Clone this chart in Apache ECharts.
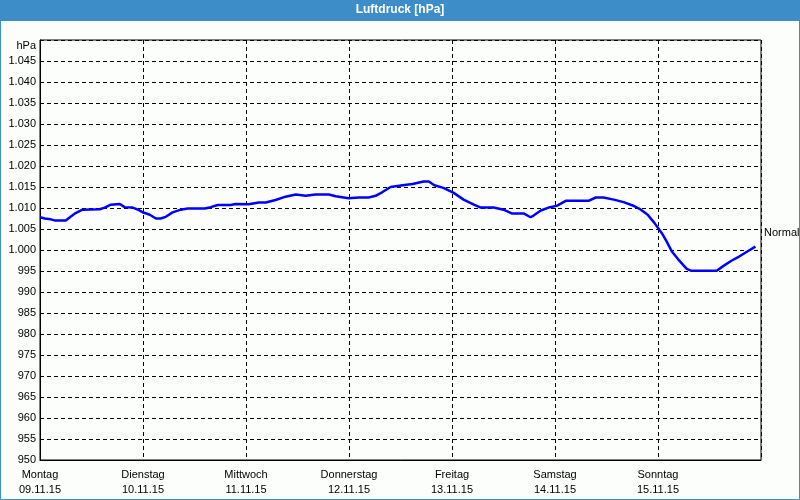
<!DOCTYPE html>
<html>
<head>
<meta charset="utf-8">
<script src="https://cdn.jsdelivr.net/npm/echarts@6/dist/echarts.min.js"></script>
<style>
  html, body { margin: 0; padding: 0; background: #fcfefc; }
  #chart { width: 800px; height: 500px; }
</style>
</head>
<body>
<div id="chart"></div>
<script>
// Tage (Achsenbeschriftung)
const dayNames = ['Montag', 'Dienstag', 'Mittwoch', 'Donnerstag', 'Freitag', 'Samstag', 'Sonntag']
const dayDates = ['09.11.15', '10.11.15', '11.11.15', '12.11.15', '13.11.15', '14.11.15', '15.11.15']

// Stunden ab Montag 00:00 und Luftdruck in hPa
const hours = [0, 1.1, 2.5, 3.4, 6.0, 7.2, 8.3, 9.9, 13.9, 15.1, 16.5, 18.6, 19.7, 21.6, 22.8, 23.9,
  25.6, 27.0, 28.1, 29.3, 30.9, 32.8, 34.4, 38.4, 39.8, 41.4, 44.4, 45.6, 48.6, 51.0, 52.6, 54.9,
  57.2, 59.6, 61.9, 64.2, 67.3, 68.9, 71.9, 74.3, 76.6, 78.2, 79.8, 81.7, 84.5, 86.8, 89.4, 90.6,
  91.9, 94.0, 96.4, 98.7, 101.1, 102.7, 105.7, 108.0, 109.9, 112.7, 114.3, 115.0, 116.7, 118.5,
  120.4, 122.5, 127.8, 129.5, 131.3, 133.7, 136.0, 138.1, 139.7, 141.6, 143.2, 144.9, 146.0,
  147.2, 148.6, 150.7, 151.8, 157.7, 159.1, 161.2, 163.0, 164.9, 166.7]
const pressure = [1007.8, 1007.5, 1007.3, 1007.05, 1007.05, 1008.0, 1008.8, 1009.6, 1009.7, 1010.1, 1010.8, 1010.95, 1010.2, 1010.1, 1009.6, 1009.0,
  1008.4, 1007.5, 1007.5, 1007.9, 1008.95, 1009.6, 1009.9, 1009.9, 1010.2, 1010.7, 1010.7, 1010.95, 1010.9, 1011.3, 1011.3, 1011.9,
  1012.7, 1013.2, 1012.9, 1013.2, 1013.2, 1012.8, 1012.3, 1012.5, 1012.5, 1012.9, 1013.8, 1015.0, 1015.4, 1015.7, 1016.3, 1016.3,
  1015.4, 1014.8, 1013.6, 1012.0, 1010.8, 1010.1, 1010.1, 1009.6, 1008.7, 1008.7, 1007.8, 1008.2, 1009.4, 1010.1,
  1010.5, 1011.7, 1011.7, 1012.5, 1012.5, 1012.0, 1011.4, 1010.6, 1009.8, 1008.4, 1006.4, 1004.0, 1002.05,
  999.7, 997.9, 995.5, 995.05, 995.05, 996.1, 997.5, 998.5, 999.7, 1000.8]

const normalValue = 1004

const font = 'Liberation Sans'
const myChart = echarts.init(document.getElementById('chart'))

const option = {
  animation: false,
  backgroundColor: '#fcfefc',
  title: {
    text: 'Luftdruck [hPa]',
    left: 'center',
    top: 4,
    padding: 0,
    textStyle: { color: '#ffffff', fontSize: 12, fontWeight: 'bold', fontFamily: font }
  },
  graphic: [
    { type: 'rect', shape: { x: 0, y: 0, width: 800, height: 21 }, style: { fill: '#3d8ec8' }, z: -1 },
    { type: 'rect', shape: { x: 0.5, y: 0.5, width: 799, height: 499 }, style: { fill: null, stroke: '#3d8ec8', lineWidth: 1 } },
    { type: 'text', x: 36, y: 46, style: { text: 'hPa', align: 'right', verticalAlign: 'middle', font: '11px "Liberation Sans"', fill: '#000' } }
  ],
  grid: {
    left: 40, right: 39, top: 40, bottom: 40,
    show: true,
    borderColor: '#000',
    borderWidth: 1,
    backgroundColor: 'transparent'
  },
  xAxis: {
    type: 'value',
    min: 0,
    max: 168,
    interval: 24,
    axisLine: { lineStyle: { color: '#000', width: 1 } },
    axisTick: { show: false },
    axisLabel: {
      color: '#000',
      fontSize: 11,
      fontFamily: font,
      lineHeight: 15,
      margin: 7,
      formatter: function (v) {
        const i = Math.round(v / 24)
        if (i >= dayNames.length) return ''
        return dayNames[i] + '\n' + dayDates[i]
      }
    },
    splitLine: { show: true, lineStyle: { color: '#000', type: [4, 3], width: 1 } }
  },
  yAxis: {
    type: 'value',
    min: 950,
    max: 1050,
    interval: 5,
    axisLine: { show: true, lineStyle: { color: '#000', width: 1 } },
    axisTick: { show: false },
    axisLabel: {
      color: '#000',
      fontSize: 11,
      fontFamily: font,
      margin: 4,
      formatter: function (v) {
        if (v >= 1050) return ''
        if (v >= 1000) return '1.' + String(v - 1000).padStart(3, '0')
        return String(v)
      }
    },
    splitLine: { show: true, lineStyle: { color: '#000', type: [4, 3], width: 1 } }
  },
  series: [
    {
      name: 'Luftdruck',
      type: 'line',
      data: hours.map((h, i) => [h, pressure[i]]),
      showSymbol: false,
      lineStyle: { color: '#0000ff', width: 2.5 },
      markLine: {
        silent: true,
        symbol: 'none',
        lineStyle: { color: 'rgba(0,0,0,0)', width: 0 },
        label: {
          show: true,
          position: 'end',
          distance: 3,
          formatter: 'Normal',
          color: '#000',
          fontSize: 11,
          fontFamily: font
        },
        data: [{ yAxis: normalValue }]
      }
    }
  ]
}

myChart.setOption(option)
</script>
</body>
</html>
